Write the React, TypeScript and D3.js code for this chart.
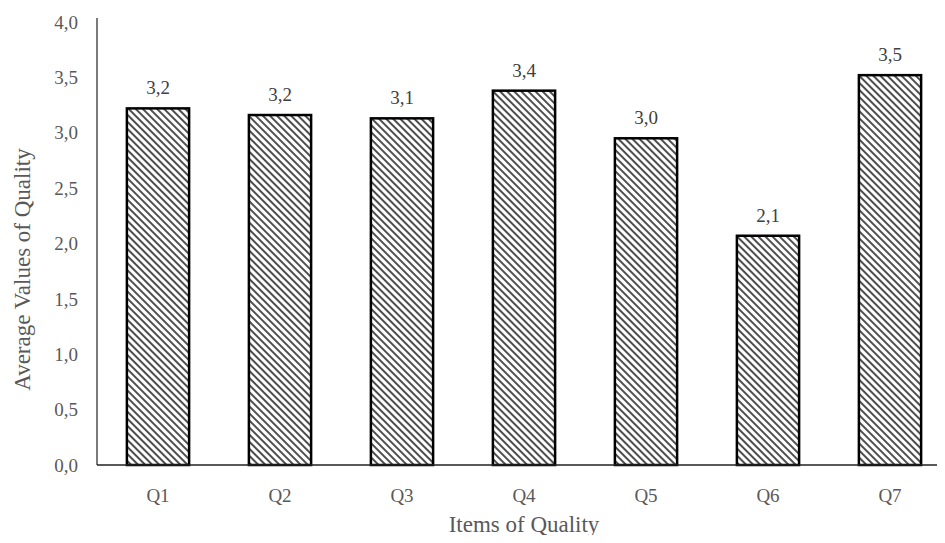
import { useEffect, useRef } from "react";
import * as d3 from "d3";

const categories = ["Q1", "Q2", "Q3", "Q4", "Q5", "Q6", "Q7"];
const values = [3.22, 3.16, 3.13, 3.38, 2.95, 2.07, 3.52];
const valueLabels = ["3,2", "3,2", "3,1", "3,4", "3,0", "2,1", "3,5"];
const yTicks = [0, 0.5, 1, 1.5, 2, 2.5, 3, 3.5, 4];

export default function App() {
  const ref = useRef<SVGSVGElement>(null);
  useEffect(() => {
    if (!ref.current) return;
    const svg = d3.select(ref.current);
    svg.selectAll("*").remove();
    const W = 945, H = 543;
    const m = { l: 97, t: 22, b: 78 };
    const font = "'Liberation Serif', 'Times New Roman', serif";

    const x = d3.scaleBand<string>(categories, [m.l, 951]).paddingInner(0.49).paddingOuter(0.245);
    const y = d3.scaleLinear([0, 4], [H - m.b, m.t]);

    const pat = svg.append("defs").append("pattern")
      .attr("id", "hatch").attr("patternUnits", "userSpaceOnUse")
      .attr("width", 5).attr("height", 5)
      .attr("patternTransform", "rotate(45)");
    pat.append("rect").attr("width", 5).attr("height", 5).attr("fill", "#fff");
    pat.append("line").attr("x1", 0).attr("x2", 5).attr("y1", 1).attr("y2", 1)
      .attr("stroke", "#222").attr("stroke-width", 1.6);

    svg.append("rect").attr("width", W).attr("height", H).attr("fill", "#fff");

    // y tick labels
    svg.append("g").selectAll("text").data(yTicks).enter().append("text")
      .attr("x", m.l - 19).attr("y", (d) => y(d)).attr("dy", "0.35em")
      .attr("text-anchor", "end").attr("font-family", font).attr("font-size", 19)
      .attr("fill", "#595959").text((d) => d.toFixed(1).replace(".", ","));

    // bars
    svg.append("g").selectAll("rect").data(values).enter().append("rect")
      .attr("x", (_, i) => x(categories[i])!).attr("width", x.bandwidth())
      .attr("y", (d) => y(d)).attr("height", (d) => y(0) - y(d))
      .attr("fill", "url(#hatch)").attr("stroke", "#000").attr("stroke-width", 2.5);

    // value labels
    svg.append("g").selectAll("text").data(values).enter().append("text")
      .attr("x", (_, i) => x(categories[i])! + x.bandwidth() / 2).attr("y", (d) => y(d) - 14)
      .attr("text-anchor", "middle").attr("font-family", font).attr("font-size", 19)
      .attr("fill", "#404040").text((_, i) => valueLabels[i]);

    // axes lines
    svg.append("line").attr("x1", m.l).attr("x2", m.l).attr("y1", y(4) - 4).attr("y2", y(0))
      .attr("stroke", "#333").attr("stroke-width", 1.3);
    svg.append("line").attr("x1", m.l).attr("x2", W).attr("y1", y(0)).attr("y2", y(0))
      .attr("stroke", "#222").attr("stroke-width", 1.5);

    // x tick labels
    svg.append("g").selectAll("text").data(categories).enter().append("text")
      .attr("x", (d) => x(d)! + x.bandwidth() / 2).attr("y", y(0) + 37)
      .attr("text-anchor", "middle").attr("font-family", font).attr("font-size", 19)
      .attr("fill", "#595959").text((d) => d);

    // axis titles
    svg.append("text").attr("x", 524).attr("y", 532).attr("text-anchor", "middle")
      .attr("font-family", font).attr("font-size", 23).attr("fill", "#595959").text("Items of Quality");
    svg.append("text").attr("transform", `translate(30,${(y(0) + y(4)) / 2 + 26}) rotate(-90)`)
      .attr("text-anchor", "middle").attr("font-family", font).attr("font-size", 23)
      .attr("fill", "#595959").text("Average Values of Quality");
  }, []);
  return <svg ref={ref} width={945} height={543} style={{ display: "block", margin: "-8px" }} />;
}
